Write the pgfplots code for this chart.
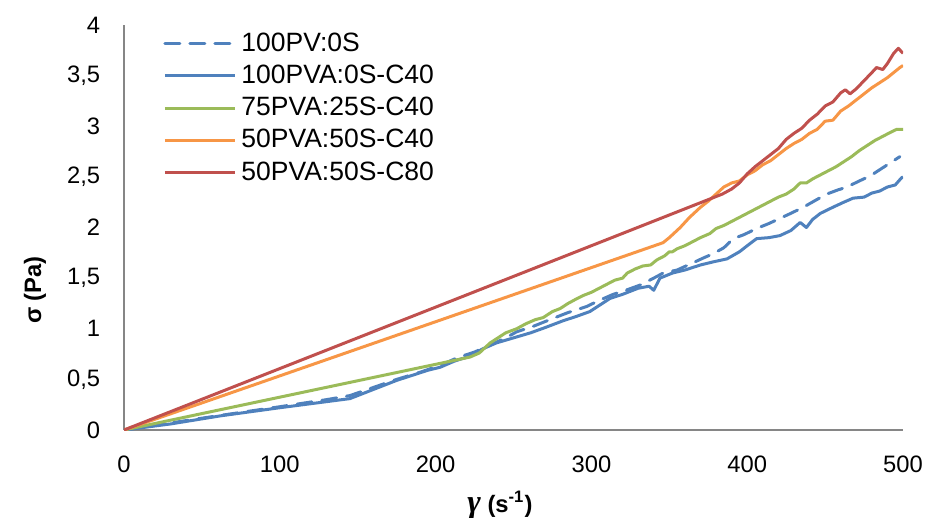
\documentclass[border=0pt]{standalone}
\usepackage{fontspec}
\setmainfont{Liberation Sans}
\newfontfamily\greekfont{Liberation Serif}
\usepackage{pgfplots}
\pgfplotsset{compat=1.18}
\definecolor{xlBlue}{HTML}{4F81BD}
\definecolor{xlRed}{HTML}{C0504D}
\definecolor{xlGreen}{HTML}{9BBB59}
\definecolor{xlOrange}{HTML}{F79646}
\definecolor{axgray}{HTML}{868686}

\begin{document}
\begin{tikzpicture}[font=\fontsize{9.5}{11}\selectfont]
\path[use as bounding box] (-49.6pt,-34.8pt) rectangle (321.6pt,172pt);
\begin{axis}[
  at={(0pt,0pt)}, anchor=south west,
  scale only axis,
  width=311.6pt, height=162pt,
  xmin=0, xmax=500, ymin=0, ymax=4,
  xtick={0,100,...,500},
  ytick={0,0.5,...,4},
  axis x line*=bottom, axis y line*=left,
  axis line style={draw=axgray, line width=0.6pt, -},
  major tick length=0pt,
  /pgf/number format/assume math mode=true,
  /pgf/number format/use comma,
  xticklabel style={yshift=-7pt},
  yticklabel style={xshift=-6pt},
  legend cell align=left,
  legend style={at={(0.05,0.995)}, anchor=north west, draw=none, fill=none,
    inner sep=0pt, row sep=0pt, font=\fontsize{10.6}{12}\selectfont},
  legend image code/.code={\draw[#1] (0pt,0pt) -- (28pt,0pt);},
  every axis plot/.append style={line width=1.2pt, line join=round},
]
\addplot[xlBlue, dash pattern=on 6pt off 4pt, line cap=round] coordinates {
(0,0) (30,0.07) (60,0.14) (100,0.23) (130,0.30) (145,0.34) (160,0.42) (175,0.50)
(190,0.57) (203,0.64) (215,0.72) (225,0.77) (235,0.84) (245,0.91) (252,0.97)
(262,1.02) (275,1.10) (285,1.16) (297,1.22) (305,1.28) (314,1.34) (322,1.38)
(331,1.43) (340,1.50) (346,1.55) (355,1.58) (365,1.65) (372,1.70) (378,1.74)
(385,1.80) (391,1.89) (398,1.93) (406,1.99) (414,2.04) (421,2.09) (428,2.14)
(436,2.20) (444,2.27) (451,2.33) (458,2.37) (464,2.40) (472,2.46) (479,2.51)
(488,2.60) (498,2.70)
};
\addlegendentry{100PV:0S}
\addplot[xlBlue] coordinates {
(0,0) (30,0.06) (62,0.14) (100,0.22) (130,0.28) (145,0.31) (155,0.37) (165,0.43)
(175,0.49) (185,0.54) (195,0.59) (203,0.62) (212,0.68) (222,0.73) (230,0.80)
(239,0.86) (250,0.91) (261,0.96) (270,1.01) (282,1.08) (290,1.12) (299,1.17)
(305,1.23) (312,1.30) (320,1.34) (330,1.40) (337,1.42) (340,1.38) (344,1.50)
(352,1.55) (360,1.58) (370,1.63) (378,1.66) (387,1.69) (395,1.76) (400,1.82)
(406,1.89) (414,1.90) (421,1.92) (428,1.97) (434,2.05) (438,2.00) (442,2.08)
(447,2.14) (455,2.20) (462,2.25) (468,2.29) (475,2.30) (480,2.34) (485,2.36)
(490,2.40) (495,2.42) (499,2.49) (500,2.50)
};
\addlegendentry{100PVA:0S-C40}
\addplot[xlGreen] coordinates {
(0,0) (222,0.72) (228,0.76) (235,0.86) (240,0.91) (245,0.96) (252,1.00) (258,1.05)
(264,1.09) (269,1.11) (275,1.17) (280,1.20) (285,1.25) (291,1.30) (295,1.33)
(300,1.36) (305,1.40) (310,1.44) (315,1.48) (320,1.50) (323,1.55) (328,1.59)
(333,1.62) (338,1.63) (342,1.68) (347,1.72) (350,1.76) (352,1.76) (355,1.79)
(360,1.82) (365,1.86) (370,1.90) (376,1.94) (380,1.99) (385,2.02) (390,2.06)
(395,2.10) (400,2.14) (405,2.18) (410,2.22) (415,2.26) (420,2.30) (425,2.33)
(430,2.38) (434,2.44) (438,2.44) (442,2.48) (447,2.52) (452,2.56) (457,2.60)
(462,2.65) (467,2.70) (472,2.76) (477,2.81) (482,2.86) (487,2.90) (492,2.94)
(496,2.97) (500,2.97)
};
\addlegendentry{75PVA:25S-C40}
\addplot[xlOrange] coordinates {
(0,0) (346,1.85) (350,1.90) (357,2.00) (363,2.10) (370,2.20) (375,2.26) (380,2.33)
(385,2.40) (390,2.44) (395,2.46) (400,2.52) (405,2.56) (410,2.62) (415,2.66)
(420,2.72) (425,2.78) (430,2.83) (435,2.87) (440,2.93) (445,2.97) (450,3.05)
(455,3.06) (460,3.15) (465,3.20) (470,3.26) (475,3.32) (480,3.38) (485,3.43)
(490,3.48) (494,3.53) (498,3.58) (500,3.60)
};
\addlegendentry{50PVA:50S-C40}
\addplot[xlRed] coordinates {
(0,0) (384,2.33) (390,2.38) (395,2.44) (400,2.53) (405,2.60) (410,2.66) (415,2.72)
(420,2.78) (425,2.87) (430,2.93) (435,2.98) (440,3.06) (445,3.12) (450,3.20)
(455,3.24) (460,3.33) (463,3.36) (466,3.32) (470,3.37) (475,3.45) (480,3.53)
(483,3.58) (487,3.56) (490,3.62) (494,3.72) (497,3.77) (500,3.72)
};
\addlegendentry{50PVA:50S-C80}
\end{axis}
\node[rotate=90, font=\fontsize{9.5}{11}\selectfont\bfseries] at (-35.6pt,56pt) {σ (Pa)};
\node[font=\fontsize{9.5}{11}\selectfont\bfseries] at (150.4pt,-30pt) {{\greekfont\fontsize{13}{13}\selectfont\itshape γ} (s\textsuperscript{-1})};
\end{tikzpicture}
\end{document}
